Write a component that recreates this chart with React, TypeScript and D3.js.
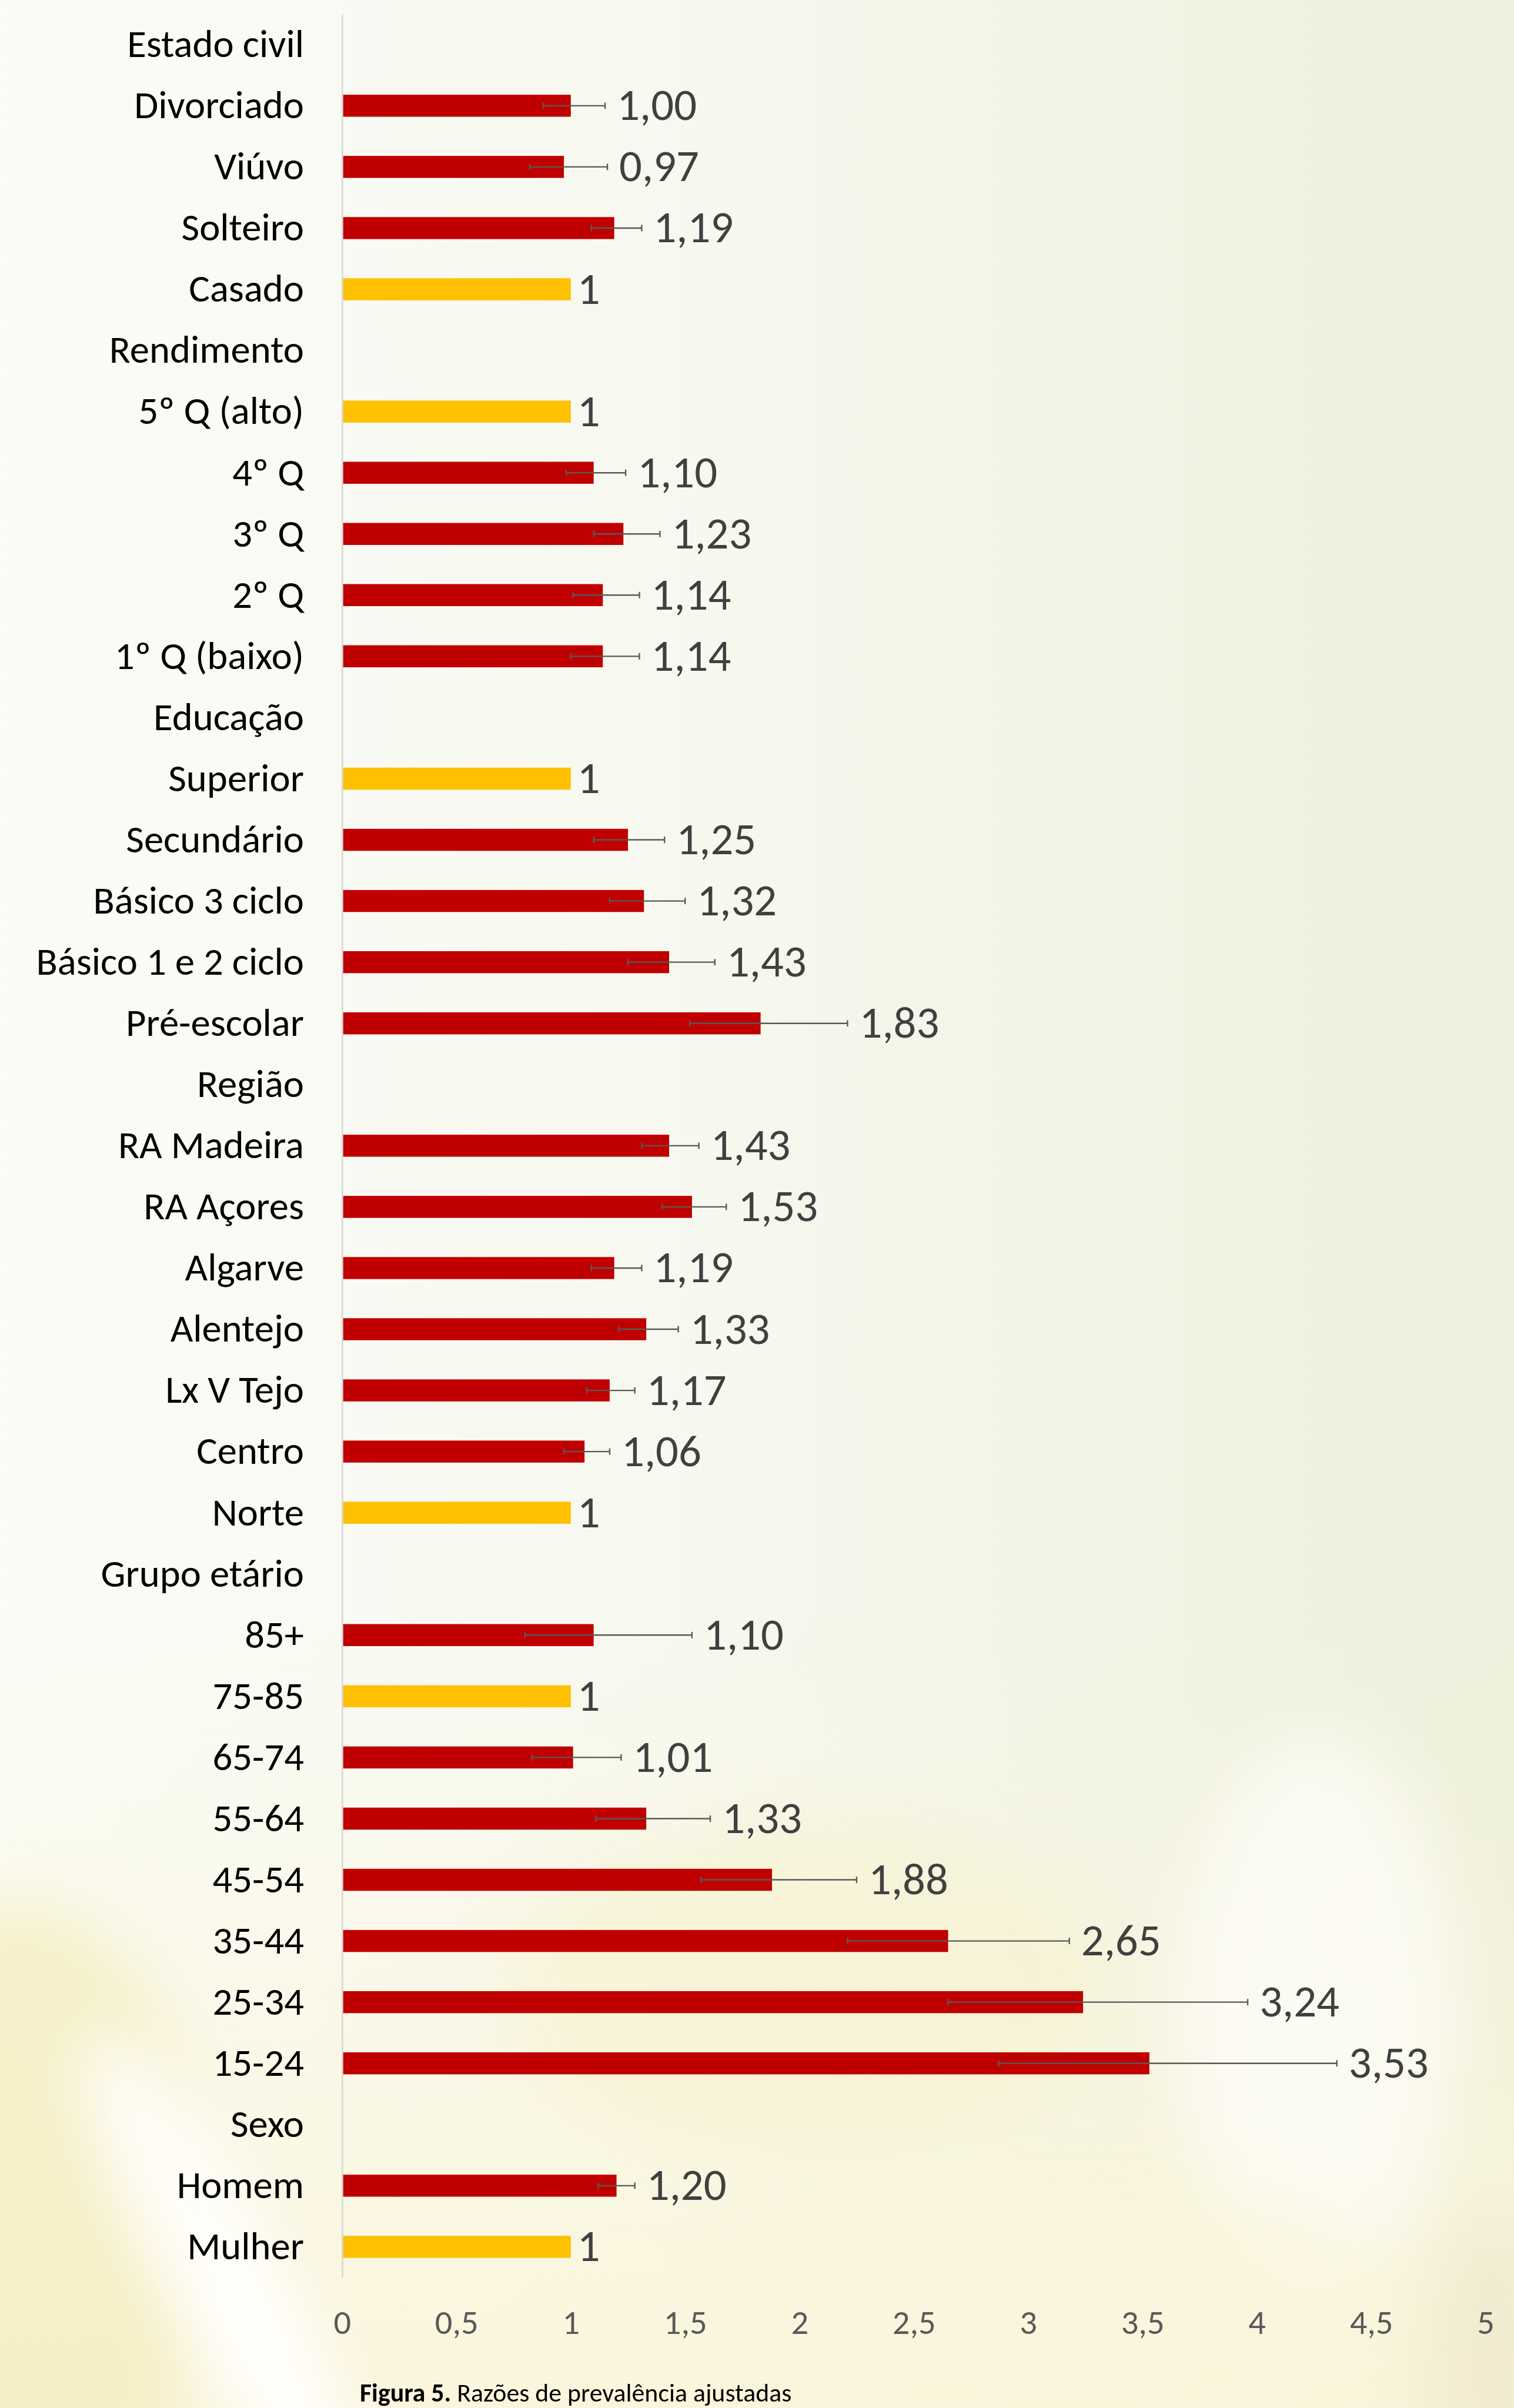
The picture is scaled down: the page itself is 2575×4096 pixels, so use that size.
import { useEffect, useRef } from 'react';
import * as d3 from 'd3';

// categories top to bottom, group headers have no value
const categories = [
  'Estado civil', 'Divorciado', 'Viúvo', 'Solteiro', 'Casado',
  'Rendimento', '5º Q (alto)', '4º Q', '3º Q', '2º Q', '1º Q (baixo)',
  'Educação', 'Superior', 'Secundário', 'Básico 3 ciclo', 'Básico 1 e 2 ciclo', 'Pré-escolar',
  'Região', 'RA Madeira', 'RA Açores', 'Algarve', 'Alentejo', 'Lx V Tejo', 'Centro', 'Norte',
  'Grupo etário', '85+', '75-85', '65-74', '55-64', '45-54', '35-44', '25-34', '15-24',
  'Sexo', 'Homem', 'Mulher',
];

const values = [
  null, 1.0, 0.97, 1.19, 1,
  null, 1, 1.1, 1.23, 1.14, 1.14,
  null, 1, 1.25, 1.32, 1.43, 1.83,
  null, 1.43, 1.53, 1.19, 1.33, 1.17, 1.06, 1,
  null, 1.1, 1, 1.01, 1.33, 1.88, 2.65, 3.24, 3.53,
  null, 1.2, 1,
];

const ciLow = [
  null, 0.88, 0.82, 1.09, null,
  null, null, 0.98, 1.1, 1.01, 1.0,
  null, null, 1.1, 1.17, 1.25, 1.52,
  null, 1.31, 1.4, 1.09, 1.21, 1.07, 0.97, null,
  null, 0.8, null, 0.83, 1.11, 1.57, 2.21, 2.65, 2.87,
  null, 1.12, null,
];

const ciHigh = [
  null, 1.15, 1.16, 1.31, null,
  null, null, 1.24, 1.39, 1.3, 1.3,
  null, null, 1.41, 1.5, 1.63, 2.21,
  null, 1.56, 1.68, 1.31, 1.47, 1.28, 1.17, null,
  null, 1.53, null, 1.22, 1.61, 2.25, 3.18, 3.96, 4.35,
  null, 1.28, null,
];

const referenceGroups = ['Casado', '5º Q (alto)', 'Superior', 'Norte', '75-85', 'Mulher'];

const xTicks = [0, 0.5, 1, 1.5, 2, 2.5, 3, 3.5, 4, 4.5, 5];

const caption = ['Figura 5.', ' Razões de prevalência ajustadas'];

const W = 2819;
const H = 4484;
const k = 2575 / 2819;
const FONT = 'Carlito, Calibri, Lato, sans-serif';

const App = () => {
  const chartRef = useRef<HTMLDivElement>(null);

  useEffect(() => {
    drawChart();
  }, []);

  const drawChart = () => {
    const ptFormat = d3.formatLocale({ decimal: ',', thousands: '.', grouping: [3], currency: ['', '€'] });
    const fmt2 = ptFormat.format('.2f');
    const fmtTick = ptFormat.format('~g');

    d3.select(chartRef.current).selectAll('*').remove();

    const svg = d3.select(chartRef.current)
      .append('svg')
      .attr('width', 2575)
      .attr('height', 4096)
      .style('position', 'absolute')
      .style('left', 0)
      .style('top', 0);

    // background: pale cream/green with a blurred flower underneath
    const defs = svg.append('defs');
    const bgH = defs.append('linearGradient').attr('id', 'bgH').attr('x1', 0).attr('x2', 1).attr('y1', 0).attr('y2', 0);
    bgH.append('stop').attr('offset', 0).attr('stop-color', '#fbfcf7');
    bgH.append('stop').attr('offset', 0.45).attr('stop-color', '#f7f8ef');
    bgH.append('stop').attr('offset', 1).attr('stop-color', '#edf0dc');
    const bgV = defs.append('linearGradient').attr('id', 'bgV').attr('x1', 0).attr('x2', 0).attr('y1', 0).attr('y2', 1);
    bgV.append('stop').attr('offset', 0).attr('stop-color', '#fbf6dc').attr('stop-opacity', 0);
    bgV.append('stop').attr('offset', 1).attr('stop-color', '#fbf5da').attr('stop-opacity', 0.9);
    defs.append('filter').attr('id', 'blur').attr('x', '-50%').attr('y', '-50%').attr('width', '200%').attr('height', '200%')
      .append('feGaussianBlur').attr('stdDeviation', 55);

    const g = svg.append('g').attr('transform', `scale(${k})`);

    const bg = g.append('g');
    bg.append('rect').attr('width', W).attr('height', H).attr('fill', 'url(#bgH)');
    bg.append('rect').attr('y', 3000).attr('width', W).attr('height', H - 3000).attr('fill', 'url(#bgV)');
    const blobs = bg.append('g').attr('filter', 'url(#blur)');
    blobs.append('ellipse').attr('cx', 40).attr('cy', 4150).attr('rx', 340).attr('ry', 600).attr('fill', '#f4ecbc').attr('opacity', 0.7);
    blobs.append('ellipse').attr('cx', 1500).attr('cy', 3700).attr('rx', 550).attr('ry', 300).attr('fill', '#f8f1cc').attr('opacity', 0.5);
    blobs.append('ellipse').attr('cx', 420).attr('cy', 4250).attr('rx', 520).attr('ry', 110)
      .attr('transform', 'rotate(62 420 4250)').attr('fill', '#ffffff').attr('opacity', 0.85);
    blobs.append('ellipse').attr('cx', 2450).attr('cy', 3750).attr('rx', 260).attr('ry', 520).attr('fill', '#fdfcf4').attr('opacity', 0.85);
    blobs.append('ellipse').attr('cx', 2000).attr('cy', 4300).attr('rx', 650).attr('ry', 260).attr('fill', '#faf5dc').attr('opacity', 0.6);
    blobs.append('ellipse').attr('cx', 2780).attr('cy', 4400).attr('rx', 120).attr('ry', 260).attr('fill', '#ece4c8').attr('opacity', 0.5);

    const x = d3.scaleLinear().domain([0, 5]).range([637, 2766]);
    const y = d3.scaleBand<string>()
      .domain(categories)
      .range([26, 4241])
      .paddingInner(0.64)
      .paddingOuter(0.32);
    const cy = (c: string) => (y(c) as number) + y.bandwidth() / 2;

    const rows = categories.map((c, i) => ({
      name: c,
      value: values[i],
      lo: ciLow[i],
      hi: ciHigh[i],
      ref: referenceGroups.includes(c),
    }));
    const bars = rows.filter(d => d.value !== null);

    // bars
    g.append('g').selectAll('rect')
      .data(bars)
      .enter().append('rect')
      .attr('x', x(0))
      .attr('y', d => y(d.name) as number)
      .attr('width', d => x(d.value as number) - x(0))
      .attr('height', y.bandwidth())
      .attr('fill', d => d.ref ? '#ffc000' : '#c00000');

    // error bars
    const errs = bars.filter(d => d.lo !== null && d.hi !== null);
    const eg = g.append('g').attr('stroke', '#595959').attr('stroke-width', 2.6).attr('fill', 'none');
    errs.forEach(d => {
      const c = cy(d.name);
      eg.append('line').attr('x1', x(d.lo as number)).attr('x2', x(d.hi as number)).attr('y1', c).attr('y2', c);
      eg.append('line').attr('x1', x(d.lo as number)).attr('x2', x(d.lo as number)).attr('y1', c - 6).attr('y2', c + 6);
      eg.append('line').attr('x1', x(d.hi as number)).attr('x2', x(d.hi as number)).attr('y1', c - 6).attr('y2', c + 6);
    });

    // value labels
    const valSize = 84;
    g.append('g').selectAll('text')
      .data(bars)
      .enter().append('text')
      .attr('x', d => d.ref ? x(d.value as number) + 12 : x(Math.max(d.value as number, d.hi ?? 0)) + 22)
      .attr('y', d => cy(d.name) + valSize * 0.32)
      .attr('font-family', FONT)
      .attr('font-size', valSize)
      .attr('fill', '#404040')
      .text(d => d.ref ? '1' : fmt2(d.value as number));

    // category axis
    const yAxis = g.append('g')
      .attr('transform', `translate(${x(0)},0)`)
      .call(d3.axisLeft(y).tickSize(0).tickSizeOuter(0).tickPadding(71));
    yAxis.select('.domain').attr('stroke', '#d9d9d9').attr('stroke-width', 3);
    yAxis.selectAll('text')
      .attr('font-family', FONT)
      .attr('font-size', 73)
      .attr('dy', '0.32em')
      .attr('fill', '#000');

    // value axis (labels only)
    const xAxis = g.append('g')
      .attr('transform', 'translate(0,4241)')
      .call(d3.axisBottom(x).tickValues(xTicks).tickFormat(d => fmtTick(d as number)).tickSize(0).tickPadding(60));
    xAxis.select('.domain').remove();
    xAxis.selectAll('text')
      .attr('font-family', FONT)
      .attr('font-size', 64)
      .attr('fill', '#595959');

    // caption
    const cap = g.append('text')
      .attr('x', 670)
      .attr('y', 4472)
      .attr('font-family', FONT)
      .attr('font-size', 48)
      .attr('fill', '#000');
    cap.append('tspan').attr('font-weight', 'bold').text(caption[0]);
    cap.append('tspan').text(caption[1]);
  };

  return <div ref={chartRef}></div>;
};

export default App;
